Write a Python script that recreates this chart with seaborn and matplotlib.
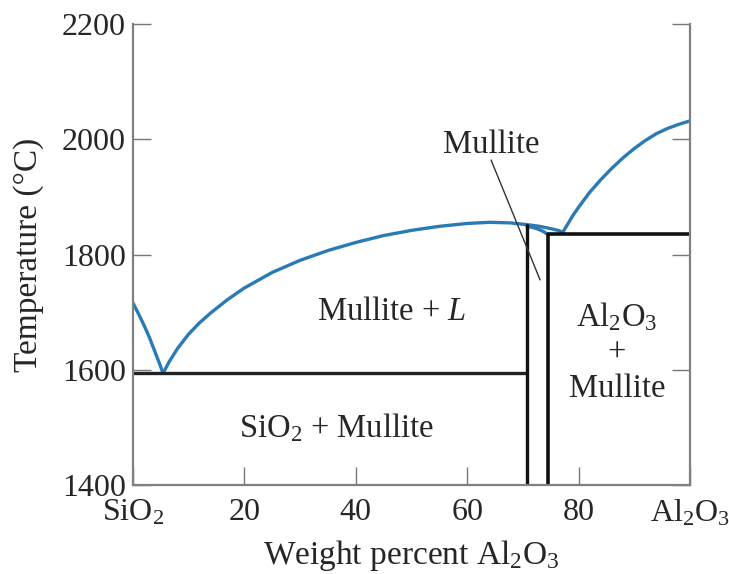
import numpy as np
import pandas as pd
import matplotlib as mpl
mpl.use("Agg")
import matplotlib.pyplot as plt
import seaborn as sns

# liquidus curves (wt% Al2O3, temperature in C)
silica_liq_x = [0.0, 1.0, 2.0, 3.0, 4.0, 4.8, 5.4]
silica_liq_t = [1716, 1697, 1677, 1655, 1630, 1610, 1594]

mullite_liq_x = [5.4, 6.5, 8.0, 10.0, 12.0, 14.0, 17.0, 20.0, 25.0, 30.0, 35.0, 40.0, 45.0,
                 50.0, 55.0, 60.0, 64.0, 67.7, 70.7, 73.0, 75.0, 76.3, 77.2]
mullite_liq_t = [1594, 1614, 1637, 1662, 1682, 1699, 1722, 1742, 1769, 1790, 1807, 1821, 1833,
                 1842, 1849, 1854, 1856, 1855, 1852, 1849, 1845, 1842, 1839]

mullite_top_x = [70.7, 71.8, 72.8, 73.7, 74.5]
mullite_top_t = [1849, 1847, 1844, 1840, 1835]

alumina_liq_x = [77.2, 78.0, 79.0, 80.0, 82.0, 84.0, 86.0, 88.0, 90.0, 92.0, 94.0, 96.0, 98.0, 100.0]
alumina_liq_t = [1839, 1852, 1868, 1882, 1908, 1930, 1950, 1968, 1984, 1998, 2010, 2019, 2026, 2032]

eutectic_t = 1595
peritectic_t = 1835
mullite_left = 70.7
mullite_right = 74.5
mullite_left_top = 1851

x_ticks = [0, 20, 40, 60, 80, 100]
x_ticklabels = ["SiO$_2$", "20", "40", "60", "80", "Al$_2$O$_3$"]
y_ticks = [1400, 1600, 1800, 2000, 2200]

sns.set_style("ticks")
plt.rcParams["font.family"] = ["Liberation Serif", "DejaVu Serif"]
plt.rcParams["mathtext.fontset"] = "custom"
plt.rcParams["mathtext.rm"] = "Liberation Serif"
plt.rcParams["mathtext.it"] = "Liberation Serif:italic"

blue = "#2a7ab3"
fs_tick = 23
fs_text = 23.5
fs_label = 24

fig = plt.figure(figsize=(7.29, 5.74), dpi=100)
ax = fig.add_axes([0.1824, 0.155, 0.764, 0.803])

for xs, ts in [(silica_liq_x, silica_liq_t), (mullite_liq_x, mullite_liq_t),
               (mullite_top_x, mullite_top_t), (alumina_liq_x, alumina_liq_t)]:
    df = pd.DataFrame({"x": xs, "t": ts})
    sns.lineplot(data=df, x="x", y="t", sort=False, color=blue, lw=2.4, ax=ax,
                 solid_joinstyle="round", solid_capstyle="round")

# phase boundaries
ax.plot([0, mullite_left], [eutectic_t, eutectic_t], color="#222222", lw=2.4)
ax.plot([mullite_left, mullite_left], [1400, mullite_left_top], color="#111111", lw=2.4)
ax.plot([mullite_right, mullite_right, 100], [1400, peritectic_t, peritectic_t], color="#111111", lw=2.6)

# leader for the mullite label
ax.plot([64.3, 73.1], [1964, 1756], color="#333333", lw=1.0)

ax.text(64.4, 1990, "Mullite", fontsize=fs_text, ha="center", va="center")
ax.text(46.5, 1700, "Mullite + $L$", fontsize=fs_text, ha="center", va="center")
ax.text(36.6, 1500, "SiO$_2$ + Mullite", fontsize=fs_text, ha="center", va="center")
ax.text(86.9, 1631, "Al$_2$O$_3$\n+\nMullite", fontsize=fs_text, ha="center", va="center",
        linespacing=1.2)

ax.set_xlim(0, 100)
ax.set_ylim(1400, 2200)
ax.set_xticks(x_ticks)
ax.set_xticklabels(x_ticklabels, fontsize=fs_tick)
ax.set_yticks(y_ticks)
ax.set_yticklabels([str(v) for v in y_ticks], fontsize=fs_tick)
ax.tick_params(axis="both", direction="in", length=13, width=1.0, color="#777777", pad=5)
ax.tick_params(axis="x", pad=9)
ax.tick_params(axis="y", right=True, labelright=False)

ax.set_xlabel("Weight percent Al$_2$O$_3$", fontsize=fs_label)
ax.set_ylabel("Temperature (°C)", fontsize=fs_label)
ax.xaxis.set_label_coords(0.5, -0.115)
ax.yaxis.set_label_coords(-0.16, 0.5)

ax.spines["top"].set_visible(False)
for s in ["left", "right", "bottom"]:
    ax.spines[s].set_color("#808080")
    ax.spines[s].set_linewidth(1.6)

fig.savefig("out.png", dpi=100)
